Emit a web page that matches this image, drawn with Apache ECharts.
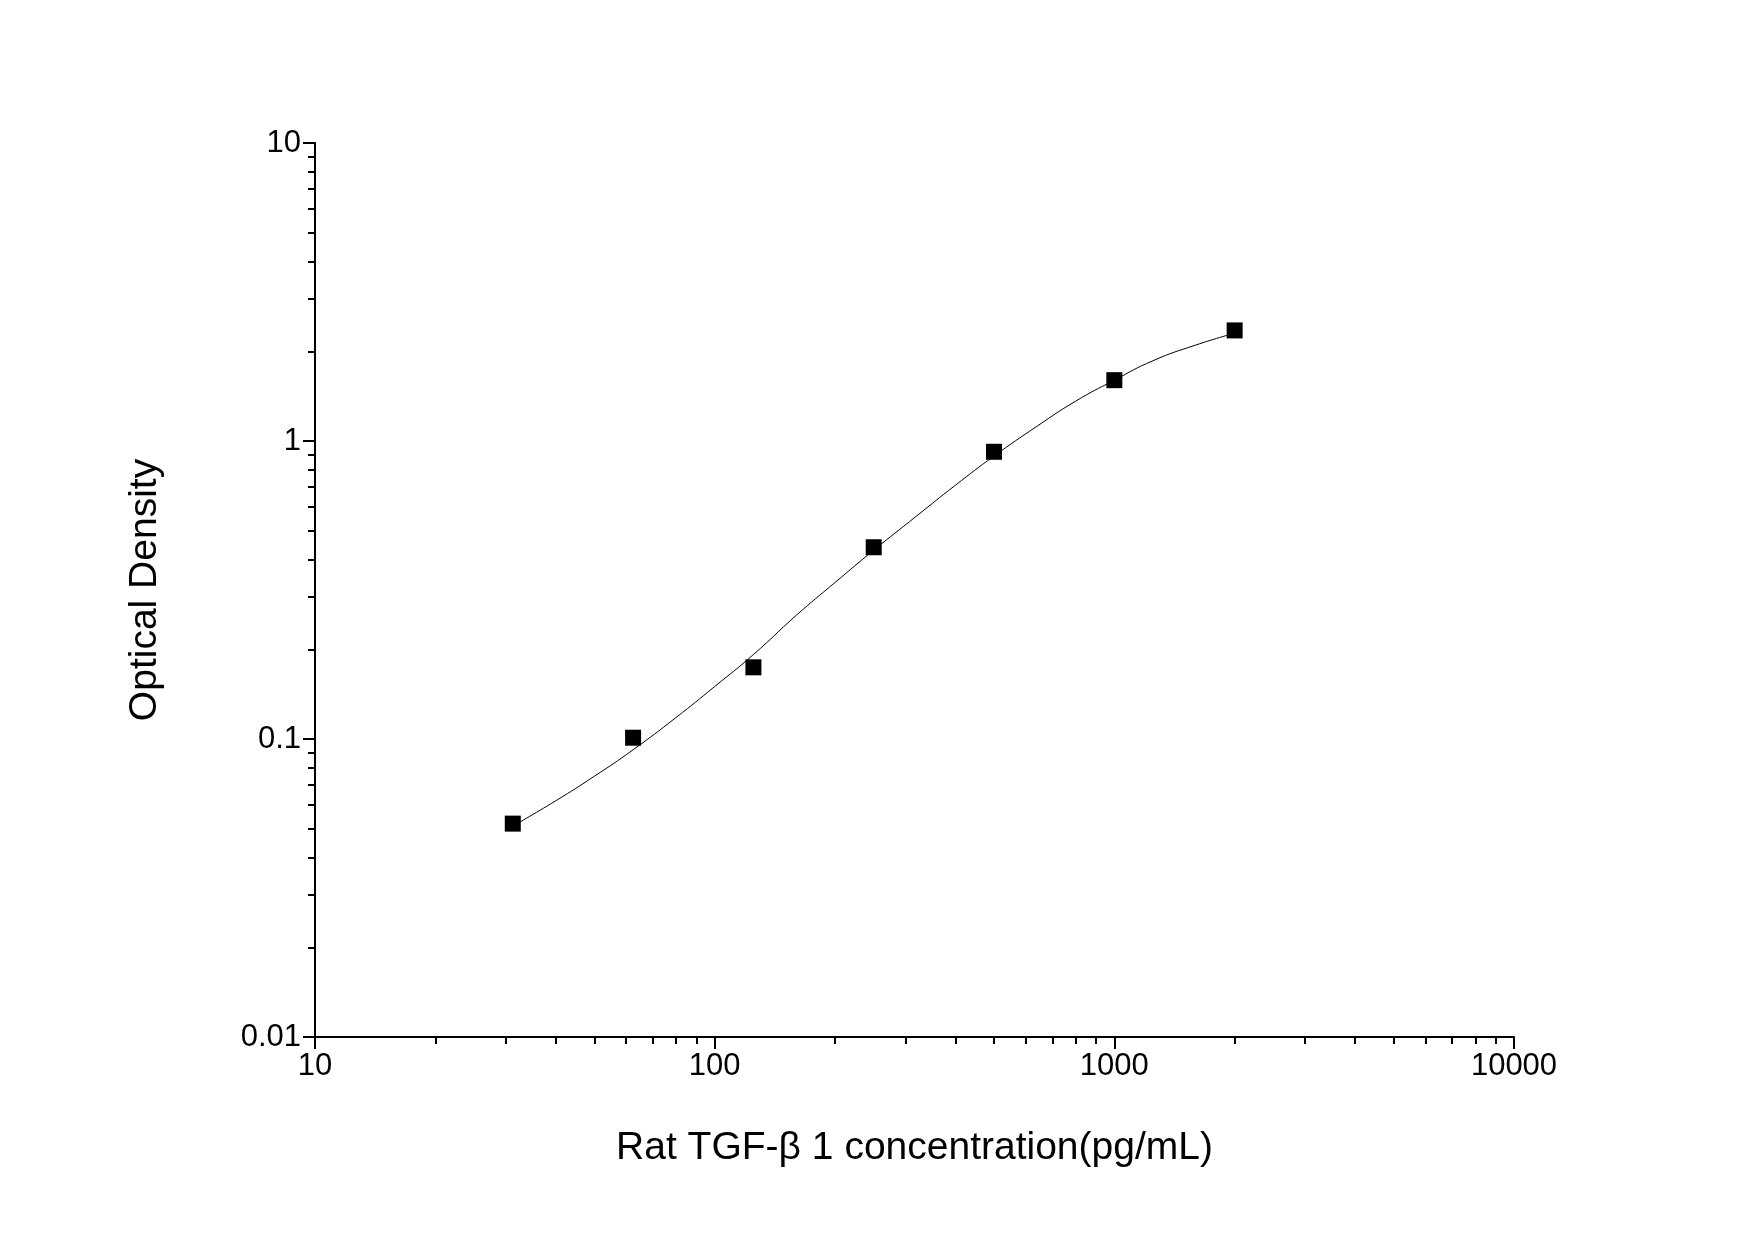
<!DOCTYPE html>
<html><head><meta charset="utf-8">
<script src="https://cdn.jsdelivr.net/npm/echarts@6/dist/echarts.min.js"></script>
<style>html,body{margin:0;background:#fff}#c{width:1755px;height:1240px}</style>
</head><body><div id="c"></div>
<script>
const concentrations = [31.25, 62.5, 125, 250, 500, 1000, 2000];
const odValues = [0.052, 0.101, 0.174, 0.44, 0.92, 1.6, 2.35];
const curveX = [31.25, 40, 50, 62.5, 80, 100, 125, 160, 200, 250, 320, 400, 500, 640, 800, 1000, 1250, 1600, 2000];
const curveY = [0.051, 0.062, 0.075, 0.092, 0.118, 0.15, 0.192, 0.26, 0.335, 0.43, 0.56, 0.71, 0.89, 1.12, 1.36, 1.6, 1.86, 2.1, 2.3];
const fmt = v => String(+(+v).toPrecision(3));
const ax = {
  type: 'log', logBase: 10,
  axisLine: {show: true, lineStyle: {color: '#000', width: 2}},
  axisTick: {show: true, inside: false, length: 12, lineStyle: {color: '#000', width: 2}},
  minorTick: {show: true, splitNumber: 9, length: 7, lineStyle: {color: '#000', width: 2}},
  splitLine: {show: false},
  axisLabel: {color: '#000', fontSize: 31, fontFamily: 'Liberation Sans, Arial', margin: 14, formatter: fmt}
};
const chart = echarts.init(document.getElementById('c'));
chart.setOption({
  animation: false,
  grid: {left: 315, right: 241, top: 143, bottom: 203},
  xAxis: Object.assign({}, ax, {min: 10, max: 10000, name: 'Rat TGF-β 1 concentration(pg/mL)', nameLocation: 'middle', nameGap: 92,
    nameTextStyle: {color: '#000', fontSize: 39, fontFamily: 'Liberation Sans, Arial'}}),
  yAxis: Object.assign({}, ax, {min: 0.01, max: 10, name: 'Optical Density', nameLocation: 'middle', nameGap: 150,
    nameTextStyle: {color: '#000', fontSize: 39, fontFamily: 'Liberation Sans, Arial'}}),
  series: [
    {type: 'line', data: curveX.map((x, i) => [x, curveY[i]]), smooth: true, showSymbol: false,
     lineStyle: {color: '#000', width: 1}},
    {type: 'scatter', data: concentrations.map((x, i) => [x, odValues[i]]), symbol: 'rect', symbolSize: 16,
     itemStyle: {color: '#000', opacity: 1}}
  ]
});
</script></body></html>
